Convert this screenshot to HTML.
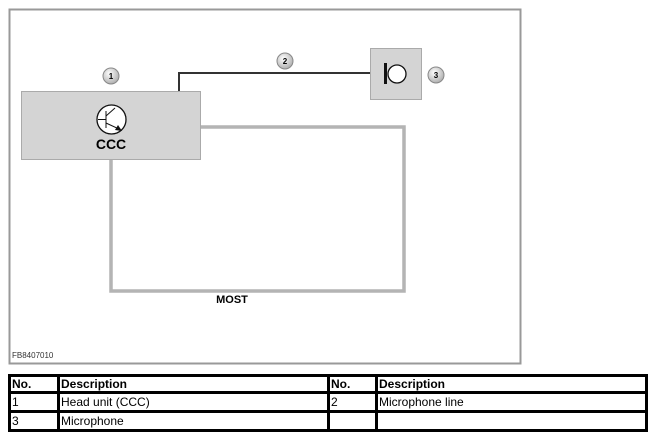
<!DOCTYPE html>
<html><head><style>
body{margin:0;background:#fff;width:655px;height:439px;overflow:hidden;font-family:"Liberation Sans",sans-serif}
table{position:absolute;left:8px;top:374px;width:640px;border-collapse:collapse;font-family:"Liberation Sans Narrow","Liberation Sans",sans-serif;font-size:12px}
td{border:3px solid #000;padding:0 1px;height:16px;line-height:16px}
th{border:3px solid #000;padding:0 1px;text-align:left;height:14px;line-height:14px;font-size:12px}
</style></head><body>
<svg width="655" height="439" style="position:absolute;left:0;top:0">
<defs><radialGradient id="g" cx="40%" cy="35%" r="70%"><stop offset="0" stop-color="#fff"/><stop offset="1" stop-color="#aaa"/></radialGradient></defs>
<rect x="9.5" y="9.5" width="511" height="354" fill="#fff" stroke="#999" stroke-width="2"/>
<polyline points="201,127 404,127 404,291 111,291 111,160" fill="none" stroke="#b4b4b4" stroke-width="3.5"/>
<polyline points="179,91 179,73 370,73" fill="none" stroke="#333" stroke-width="2"/>
<rect x="21.5" y="91.5" width="179" height="68" fill="#d4d4d4" stroke="#aaa"/>
<rect x="370.5" y="48.5" width="51" height="51" fill="#d4d4d4" stroke="#aaa"/>
<rect x="384" y="63" width="3" height="21" fill="#111"/>
<circle cx="397" cy="74" r="9" fill="#fff" stroke="#111" stroke-width="1.3"/>
<circle cx="111.5" cy="119.5" r="14.5" fill="#fff" stroke="#111" stroke-width="1.3"/>
<line x1="98" y1="119.5" x2="106" y2="119.5" stroke="#111"/>
<line x1="106" y1="111" x2="106" y2="128" stroke="#111"/>
<line x1="106" y1="116" x2="115" y2="108" stroke="#111"/>
<line x1="106" y1="123" x2="119" y2="129" stroke="#111"/>
<polygon points="122,131 115,130 118,125" fill="#111"/>
<text x="111" y="149" font-size="14" font-weight="bold" text-anchor="middle">CCC</text>
<text x="232" y="303" font-size="11" font-weight="bold" text-anchor="middle">MOST</text>
<text x="12" y="358" font-size="8" fill="#333">FB8407010</text>
<g font-size="8" font-weight="bold" text-anchor="middle">
<circle cx="111" cy="76" r="8" fill="url(#g)" stroke="#888"/><text x="111" y="79">1</text>
<circle cx="285" cy="61" r="8" fill="url(#g)" stroke="#888"/><text x="285" y="64">2</text>
<circle cx="436" cy="75" r="8" fill="url(#g)" stroke="#888"/><text x="436" y="78">3</text>
</g>
</svg>
<table>
<tr><th style="width:44px">No.</th><th style="width:265px">Description</th><th style="width:43px">No.</th><th>Description</th></tr>
<tr><td>1</td><td>Head unit (CCC)</td><td>2</td><td>Microphone line</td></tr>
<tr><td>3</td><td>Microphone</td><td></td><td></td></tr>
</table>
</body></html>
